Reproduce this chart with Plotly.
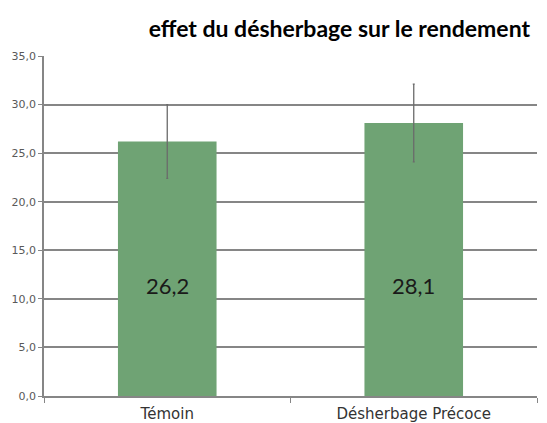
import plotly.graph_objects as go

categories = ["Témoin", "Désherbage Précoce"]
values = [26.2, 28.1]
errors = [3.8, 4.0]
value_labels = ["26,2", "28,1"]
y_tickvals = [0, 5, 10, 15, 20, 25, 30, 35]
y_ticktext = ["0,0", "5,0", "10,0", "15,0", "20,0", "25,0", "30,0", "35,0"]

# the page body has an 8px margin; size the figure so it fits the window
W, H = 539, 415

fig = go.Figure()
fig.add_trace(go.Bar(
    x=categories, y=values,
    marker=dict(color="#6fa374", line=dict(width=0)),
    width=0.4,
    error_y=dict(type="data", array=errors, visible=True, color="#6b6b6b",
                 thickness=1.3, width=1),
    hoverinfo="skip",
))

LABEL_Y = 11.4
for c, t in zip(categories, value_labels):
    fig.add_annotation(x=c, y=LABEL_Y, text=t, showarrow=False,
                       font=dict(family="Lato, sans-serif", size=22, color="#1a1a1a"))

fig.update_layout(
    width=W, height=H,
    margin=dict(l=36, r=10, t=48, b=27, autoexpand=False),
    paper_bgcolor="white", plot_bgcolor="white",
    showlegend=False,
    title=dict(text="<b>effet du désherbage sur le rendement</b>",
               x=522 / W, xanchor="right", y=1 - 21 / H, yref="container",
               yanchor="middle",
               font=dict(family="Lato, sans-serif", size=23, color="black")),
)
fig.update_xaxes(
    automargin=False,
    showline=True, linecolor="#868686", linewidth=1.5,
    ticks="outside", tickson="boundaries", ticklen=5, tickcolor="#868686",
    ticklabelstandoff=3,
    tickfont=dict(family="DejaVu Sans, sans-serif", size=15, color="#333333"),
    showgrid=False,
)
fig.update_yaxes(
    automargin=False,
    range=[0, 35], tickvals=y_tickvals, ticktext=y_ticktext,
    showline=True, linecolor="#868686", linewidth=1.5,
    showgrid=True, gridcolor="#868686", gridwidth=1.5,
    ticks="outside", ticklen=4, tickcolor="#868686",
    tickfont=dict(family="DejaVu Sans, sans-serif", size=11, color="#595959"),
    zeroline=False,
)

fig.write_html("out.html")
